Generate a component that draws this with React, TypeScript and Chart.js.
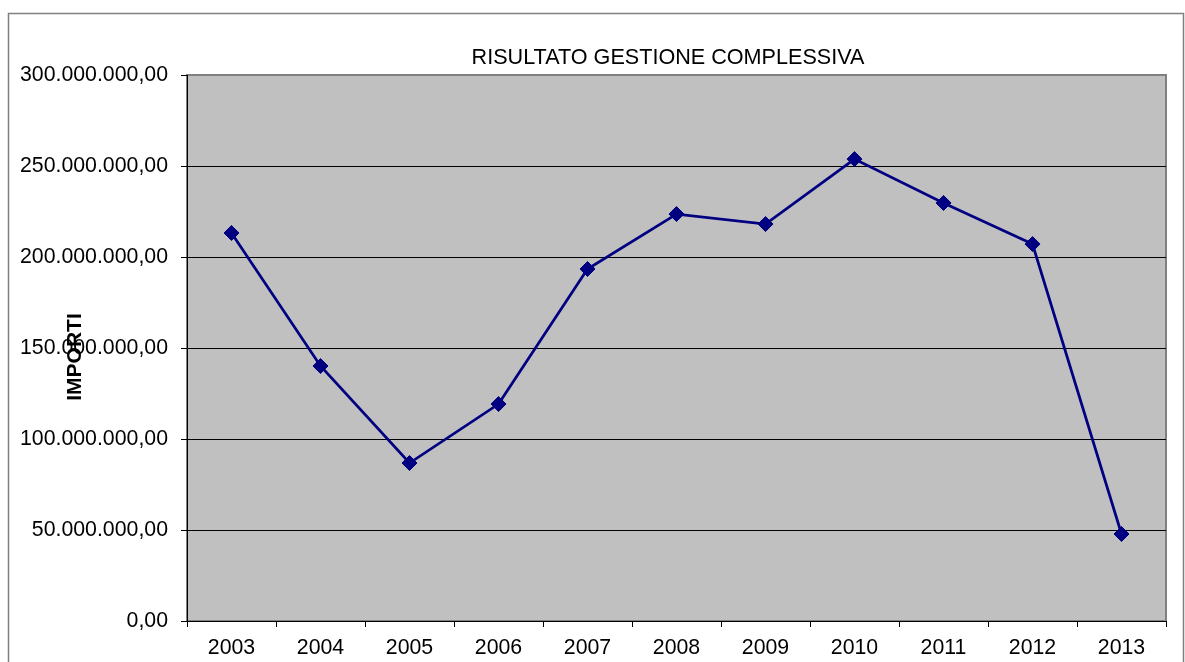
import React, { useEffect, useRef } from "react";
import { Chart, registerables } from "chart.js";

Chart.register(...registerables);

const years = ["2003", "2004", "2005", "2006", "2007", "2008", "2009", "2010", "2011", "2012", "2013"];
const risultato = [
  213200000, 140100000, 86800000, 119200000, 193400000, 223600000,
  218100000, 253800000, 229700000, 207100000, 47800000,
];
const chartTitle = "RISULTATO GESTIONE COMPLESSIVA";
const yAxisTitle = "IMPORTI";
const yMin = 0;
const yMax = 300000000;
const yStep = 50000000;

const FONT = "'Liberation Sans', Arial, Helvetica, sans-serif";

function formatIt(v: number): string {
  const n = Math.round(v);
  const s = String(Math.abs(n));
  let out = "";
  for (let i = 0; i < s.length; i++) {
    const rem = s.length - i;
    out += s[i];
    if (rem > 1 && (rem - 1) % 3 === 0) out += ".";
  }
  return (n < 0 ? "-" : "") + out + ",00";
}

const decorPlugin = {
  id: "decor",
  beforeDraw(chart: any) {
    const { ctx, chartArea } = chart;
    const { left, top, right, bottom } = chartArea;
    ctx.save();
    ctx.fillStyle = "#ffffff";
    ctx.fillRect(0, 0, chart.width, chart.height);
    ctx.strokeStyle = "#808080";
    ctx.lineWidth = 1.5;
    ctx.strokeRect(8.5, 13.5, 1175, 700);
    ctx.fillStyle = "#C0C0C0";
    ctx.fillRect(left, top, right - left, bottom - top);
    ctx.strokeStyle = "#808080";
    ctx.lineWidth = 2;
    ctx.strokeRect(left, top, right - left, bottom - top);
    ctx.restore();
  },
  afterDraw(chart: any) {
    const { ctx } = chart;
    ctx.save();
    ctx.fillStyle = "#000000";
    ctx.font = `21.6px ${FONT}`;
    ctx.textAlign = "center";
    ctx.textBaseline = "alphabetic";
    ctx.fillText(chartTitle, 668, 64);
    ctx.translate(75, 357);
    ctx.rotate(-Math.PI / 2);
    ctx.font = `bold 21px ${FONT}`;
    ctx.textBaseline = "middle";
    ctx.fillText(yAxisTitle, 0, 0);
    ctx.restore();
  },
};

export default function App() {
  const ref = useRef<HTMLCanvasElement>(null);
  useEffect(() => {
    if (!ref.current) return;
    const chart = new Chart(ref.current, {
      type: "line",
      data: {
        labels: years,
        datasets: [
          {
            data: risultato,
            borderColor: "#000080",
            backgroundColor: "#000080",
            borderWidth: 2.75,
            pointStyle: "rectRot",
            pointRadius: 7.5,
            pointBorderWidth: 1,
            pointBackgroundColor: "#000080",
            pointBorderColor: "#000080",
            tension: 0,
            fill: false,
          },
        ],
      },
      options: {
        responsive: false,
        animation: false,
        devicePixelRatio: 1,
        layout: { padding: { top: 75, right: 19, left: 0, bottom: 0 } },
        plugins: {
          legend: { display: false },
          title: { display: false },
          tooltip: { enabled: false },
        },
        scales: {
          x: {
            offset: true,
            afterFit: (scale: any) => {
              scale.height = 41;
            },
            grid: {
              offset: true,
              drawOnChartArea: false,
              drawTicks: true,
              tickLength: 6,
              tickColor: "#000000",
              tickWidth: 1,
            },
            border: { display: true, color: "#000000", width: 1 },
            ticks: {
              color: "#000000",
              font: { family: FONT, size: 21.3 },
              padding: 8,
              maxRotation: 0,
              autoSkip: false,
            },
          },
          y: {
            min: yMin,
            max: yMax,
            afterFit: (scale: any) => {
              scale.width = 187;
            },
            grid: {
              color: (c: any) => (c.tick && c.tick.value === yMax ? "rgba(0,0,0,0)" : "#000000"),
              lineWidth: 1,
              drawTicks: true,
              tickLength: 6,
              tickColor: "#000000",
              tickWidth: 1,
            },
            border: { display: true, color: "#000000", width: 1 },
            ticks: {
              stepSize: yStep,
              color: "#000000",
              font: { family: FONT, size: 21.3 },
              padding: 13,
              callback: (v: any) => formatIt(Number(v)),
            },
          },
        },
      },
      plugins: [decorPlugin],
    });
    return () => chart.destroy();
  }, []);
  return (
    <div style={{ position: "fixed", left: 0, top: 0, width: 1185, height: 662, background: "#fff" }}>
      <canvas ref={ref} width={1185} height={662} style={{ display: "block", width: 1185, height: 662 }} />
    </div>
  );
}
